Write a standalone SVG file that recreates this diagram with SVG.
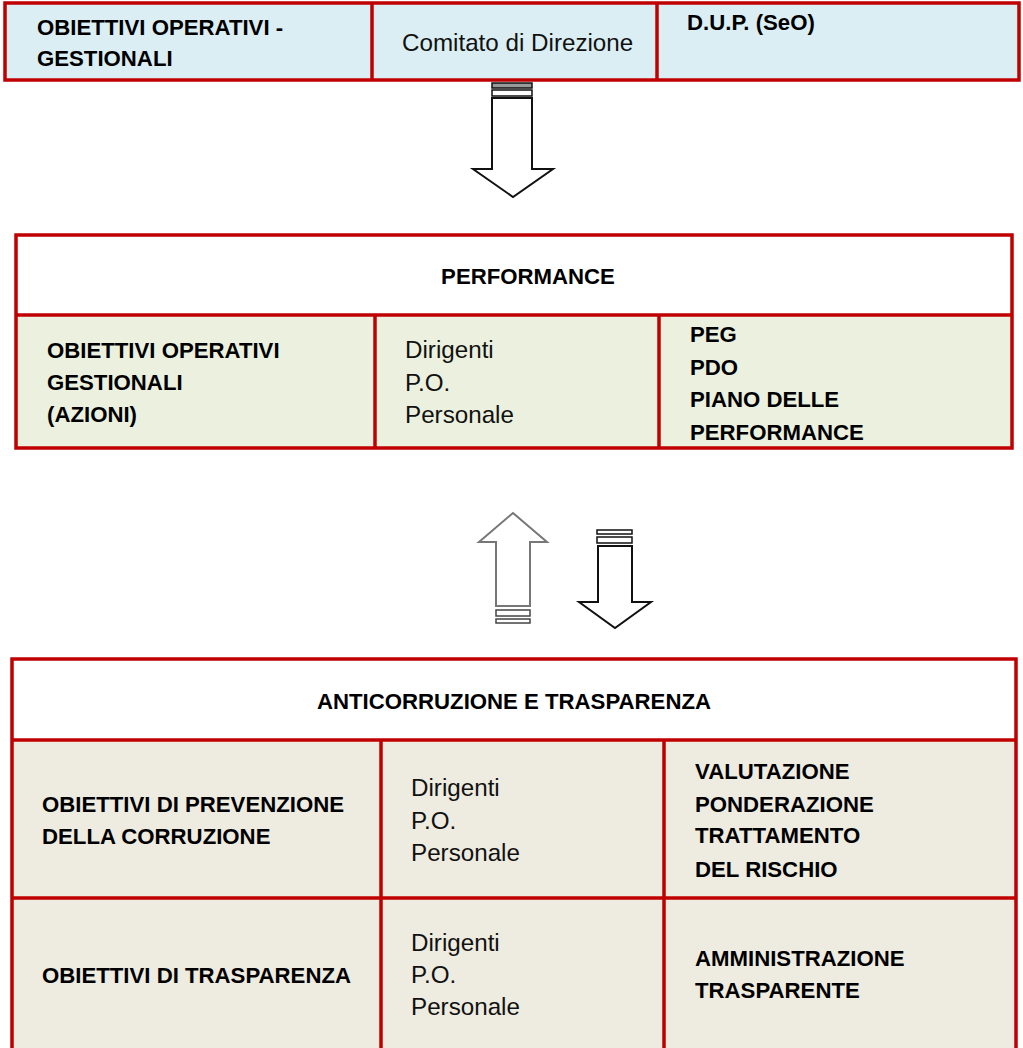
<svg xmlns="http://www.w3.org/2000/svg" width="1023" height="1048" viewBox="0 0 1023 1048">
<style>
.b{fill:none;stroke:#C00000;stroke-width:3.5}
.t{font-family:"Liberation Sans",Arial,sans-serif;font-size:22.2px;font-weight:bold;fill:#000}
.r{font-family:"Liberation Sans",Arial,sans-serif;font-size:24.2px;fill:#111}
.blue{fill:#DBEEF3}
.green{fill:#EBF1DE}
.tan{fill:#EEEBE0}
.ar{fill:#fff;stroke:#111;stroke-width:2}
.arg{fill:#fff;stroke:#777;stroke-width:2}
</style>
<rect width="1023" height="1048" fill="#fff"/>

<g id="top-table">
<rect class="blue" x="5" y="3" width="1014" height="77"/>
<rect class="b" x="5" y="3" width="1014" height="77"/>
<line class="b" x1="372" y1="3" x2="372" y2="80"/>
<line class="b" x1="657" y1="3" x2="657" y2="80"/>
<text class="t" x="37" y="35">OBIETTIVI OPERATIVI -</text>
<text class="t" x="37" y="66">GESTIONALI</text>
<text class="r" x="402" y="51">Comitato di Direzione</text>
<text class="t" x="687" y="30">D.U.P. (SeO)</text>
</g>

<g id="connectors">
<g id="arrow-down-1">
<rect x="492" y="83" width="40" height="5" fill="#999" stroke="#111" stroke-width="1.5"/>
<rect x="492" y="90" width="40" height="6" fill="#fff" stroke="#111" stroke-width="1.5"/>
<polygon class="ar" points="492,98 532,98 532,169 553,169 513,197 473,169 492,169"/>
</g>
<g id="arrow-up">
<polygon class="arg" points="513,513 547,542 530,542 530,606 496,606 496,542 479,542"/>
<rect x="496" y="610" width="34" height="6" fill="#fff" stroke="#444" stroke-width="1.5"/>
<rect x="496" y="619" width="34" height="4" fill="#fff" stroke="#444" stroke-width="1.5"/>
</g>
<g id="arrow-down-2">
<rect x="597" y="530" width="35" height="4" fill="#fff" stroke="#111" stroke-width="1.5"/>
<rect x="597" y="537" width="35" height="6" fill="#fff" stroke="#111" stroke-width="1.5"/>
<polygon class="ar" points="598,546 632,546 632,602 651,602 615,628 579,602 598,602"/>
</g>
</g>

<g id="performance">
<rect fill="#fff" x="16" y="235" width="996" height="80"/>
<rect class="green" x="16" y="315" width="996" height="133"/>
<rect class="b" x="16" y="235" width="996" height="213"/>
<line class="b" x1="16" y1="315" x2="1012" y2="315"/>
<line class="b" x1="375" y1="315" x2="375" y2="448"/>
<line class="b" x1="659" y1="315" x2="659" y2="448"/>
<text class="t" x="528" y="284" text-anchor="middle">PERFORMANCE</text>
<text class="t" x="47" y="358">OBIETTIVI OPERATIVI</text>
<text class="t" x="47" y="390">GESTIONALI</text>
<text class="t" x="47" y="422">(AZIONI)</text>
<text class="r" x="405" y="358">Dirigenti</text>
<text class="r" x="405" y="391">P.O.</text>
<text class="r" x="405" y="423">Personale</text>
<text class="t" x="690" y="342">PEG</text>
<text class="t" x="690" y="375">PDO</text>
<text class="t" x="690" y="407">PIANO DELLE</text>
<text class="t" x="690" y="440">PERFORMANCE</text>
</g>

<g id="anticorruzione">
<rect fill="#fff" x="12" y="659" width="1004" height="81"/>
<rect class="tan" x="12" y="740" width="1004" height="310"/>
<polyline class="b" points="12,1050 12,659 1016,659 1016,1050"/>
<line class="b" x1="12" y1="740" x2="1016" y2="740"/>
<line class="b" x1="12" y1="898" x2="1016" y2="898"/>
<line class="b" x1="381" y1="740" x2="381" y2="1050"/>
<line class="b" x1="664" y1="740" x2="664" y2="1050"/>
<text class="t" x="514" y="709" text-anchor="middle">ANTICORRUZIONE E TRASPARENZA</text>
<text class="t" x="42" y="812">OBIETTIVI DI PREVENZIONE</text>
<text class="t" x="42" y="844">DELLA CORRUZIONE</text>
<text class="r" x="411" y="796">Dirigenti</text>
<text class="r" x="411" y="829">P.O.</text>
<text class="r" x="411" y="861">Personale</text>
<text class="t" x="695" y="779">VALUTAZIONE</text>
<text class="t" x="695" y="812">PONDERAZIONE</text>
<text class="t" x="695" y="843">TRATTAMENTO</text>
<text class="t" x="695" y="877">DEL RISCHIO</text>
<text class="t" x="42" y="983">OBIETTIVI DI TRASPARENZA</text>
<text class="r" x="411" y="951">Dirigenti</text>
<text class="r" x="411" y="983">P.O.</text>
<text class="r" x="411" y="1015">Personale</text>
<text class="t" x="695" y="966">AMMINISTRAZIONE</text>
<text class="t" x="695" y="998">TRASPARENTE</text>
</g>
</svg>
